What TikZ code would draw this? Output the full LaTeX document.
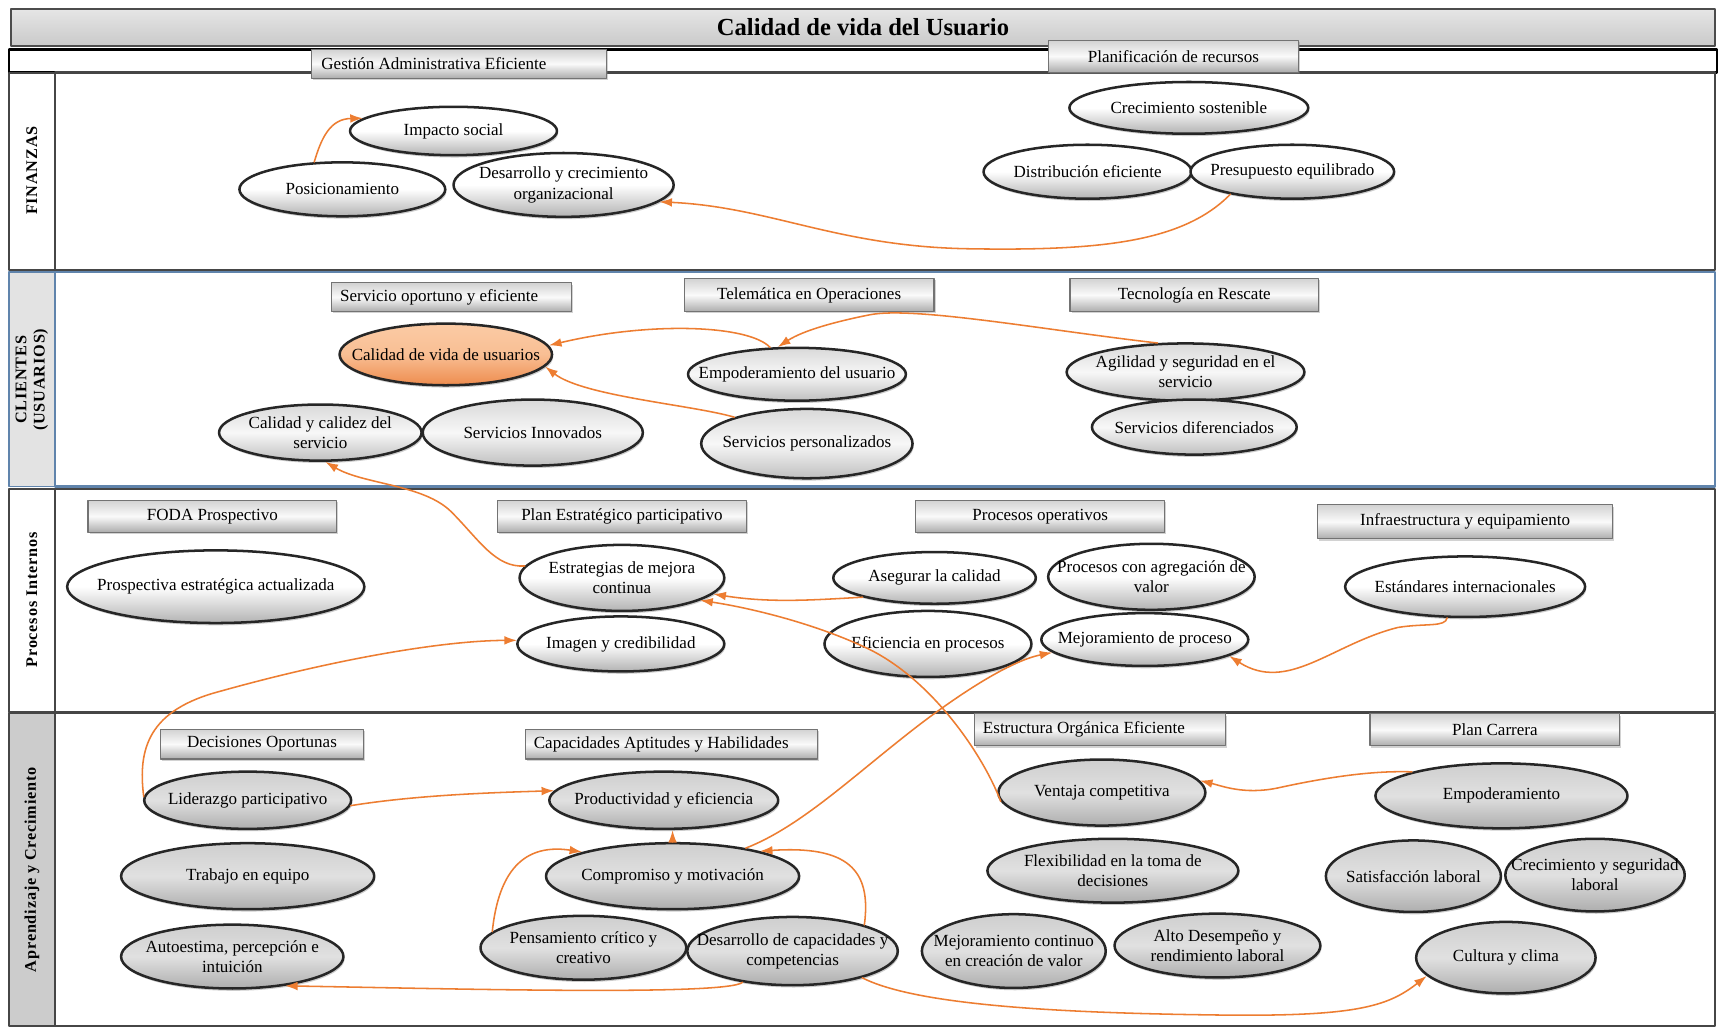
\documentclass[tikz,border=0pt]{standalone}
\usepackage{fontspec}
\setmainfont{Liberation Serif}
\newfontfamily\lanefont[LetterSpace=5]{Liberation Serif}
\usepackage{tikz}
\usetikzlibrary{arrows.meta}
\usetikzlibrary{shapes}
\usetikzlibrary{shadows}

\begin{document}
\begin{tikzpicture}[
    >=Latex,
    line cap=round,
    line join=round,
    x=0.02cm,
    y=-0.02cm
]

% =========================================================
% Colors
% =========================================================
\definecolor{flowor}{RGB}{237,125,49}
\definecolor{vidatop}{RGB}{251,203,165}
\definecolor{vidabot}{RGB}{238,140,78}
\definecolor{laneblue}{RGB}{96,132,172}
\definecolor{framegray}{RGB}{70,70,70}

% =========================================================
% Styles
% =========================================================
\tikzset{
    txt/.style={font=\fontsize{8.8}{10.4}\selectfont},
    lanebox/.style={draw=framegray,line width=1.2pt},
    lanetag/.style={draw=framegray,line width=0.9pt},
    lanetext/.style={rotate=90,align=center,
        font=\lanefont\bfseries\fontsize{8.4}{9.4}\selectfont},
    hdr/.style 2 args={rectangle,txt,inner xsep=3pt,inner ysep=1pt,
        minimum width=#1*0.02cm,minimum height=#2*0.02cm,
        draw=black!55,line width=0.6pt,
        top color=gray!35,bottom color=gray!65,middle color=gray!4,
        drop shadow={shadow xshift=0.8pt,shadow yshift=-1pt,opacity=0.35}},
    hdrleft/.style={align=flush left,text width=#1*0.02cm},
    ov/.style 2 args={ellipse,txt,align=center,
        minimum width=#1*0.02cm,minimum height=#2*0.02cm,
        inner xsep=-11pt,inner ysep=0pt,
        draw=black!85,line width=1.3pt,
        drop shadow={shadow xshift=0.6pt,shadow yshift=-1.2pt,opacity=0.4}},
    ovwhite/.style={top color=white,bottom color=gray!60,middle color=white},
    ovlight/.style={top color=gray!30,bottom color=gray!50,middle color=gray!6},
    ovgray/.style={top color=gray!38,bottom color=gray!64,middle color=gray!24},
    ovorange/.style={top color=vidatop,bottom color=vidabot,middle color=vidatop!80!vidabot},
    flow/.style={draw=flowor,line width=0.8pt,-{Latex[length=6.5pt,width=4.5pt]}}
}

\useasboundingbox (0,0) rectangle (1568,935);
\fill[white] (0,0) rectangle (1568,935);

% =========================================================
% Frame, title and lanes
% =========================================================
\draw[draw=black!70,line width=1.2pt,top color=gray!20,bottom color=gray!42]
    (10,8) rectangle (1558,42);
\node[font=\bfseries\fontsize{12.7}{14}\selectfont] (title) at (784,25)
    {Calidad de vida del Usuario};
\draw[black,line width=1.3pt] (8,45) rectangle (1560,66);

% lane: finanzas
\draw[lanebox] (50,66) rectangle (1558,245);
\draw[lanetag] (8,66) rectangle (50,245);
\node[lanetext] (lfin) at (29,155) {FINANZAS};

% lane: clientes
\draw[draw=laneblue,line width=1.1pt] (50,247) rectangle (1558,442);
\draw[draw=laneblue,line width=0.9pt,fill=gray!22] (8,247) rectangle (50,442);
\node[lanetext] (lcli) at (29,345) {CLIENTES\\(USUARIOS)};

% lane: procesos internos
\draw[lanebox] (50,444) rectangle (1558,647);
\draw[lanetag] (8,444) rectangle (50,647);
\node[lanetext] (lpro) at (29,545) {Procesos Internos};

% lane: aprendizaje
\draw[lanebox] (50,648) rectangle (1558,932);
\draw[lanetag,fill=gray!40] (8,648) rectangle (50,932);
\node[lanetext] (lapr) at (29,790) {Aprendizaje y Crecimiento};

% =========================================================
% Header boxes
% =========================================================
\node[hdr={268}{26},hdrleft=250] (gestion) at (417,58) {Gestión Administrativa Eficiente};
\node[hdr={227}{29}] (planif) at (1066,51) {Planificación de recursos};

\node[hdr={218}{26},hdrleft=202] (servop) at (410,270) {Servicio oportuno y eficiente};
\node[hdr={227}{30}] (telem) at (735,268) {Telemática en Operaciones};
\node[hdr={226}{30}] (tecres) at (1085,268) {Tecnología en Rescate};

\node[hdr={226}{29}] (foda) at (193,469) {FODA Prospectivo};
\node[hdr={226}{29}] (planest) at (565,469) {Plan Estratégico participativo};
\node[hdr={226}{29}] (procop) at (945,469) {Procesos operativos};
\node[hdr={268}{31}] (infra) at (1331,474) {Infraestructura y equipamiento};

\node[hdr={185}{27}] (decis) at (238,676) {Decisiones Oportunas};
\node[hdr={265}{27},hdrleft=250] (capac) at (610,676) {Capacidades Aptitudes y Habilidades};
\node[hdr={228}{29},hdrleft=212] (estorg) at (999,663) {Estructura Orgánica Eficiente};
\node[hdr={227}{29}] (plancar) at (1358,663) {Plan Carrera};

% =========================================================
% Finanzas
% =========================================================
\node[ov={188}{44},ovwhite] (impacto) at (412,119) {Impacto social};
\node[ov={187}{49},ovwhite] (posic) at (311,172) {Posicionamiento};
\node[ov={200}{58},ovwhite] (desarr) at (512,168) {Desarrollo y crecimiento\\organizacional};
\node[ov={217}{47},ovwhite] (crecsost) at (1080,98) {Crecimiento sostenible};
\node[ov={189}{49},ovwhite] (distrib) at (988,156) {Distribución eficiente};
\node[ov={185}{49},ovwhite] (presup) at (1174,156) {Presupuesto equilibrado};

% =========================================================
% Clientes
% =========================================================
\node[ov={193}{56},ovorange] (calvida) at (405,322) {Calidad de vida de usuarios};
\node[ov={188}{48},ovlight] (empus) at (724,340) {Empoderamiento del usuario};
\node[ov={216}{52},ovlight] (agil) at (1077,338) {Agilidad y seguridad en el\\servicio};
\node[ov={186}{50},ovlight] (serdif) at (1085,388) {Servicios diferenciados};
\node[ov={184}{51},ovlight] (calcal) at (291,393) {Calidad y calidez del\\servicio};
\node[ov={200}{60},ovlight] (serinn) at (484,393) {Servicios Innovados};
\node[ov={192}{63},ovlight] (serpers) at (733,403) {Servicios personalizados};

% =========================================================
% Procesos internos
% =========================================================
\node[ov={270}{66},ovwhite] (prosp) at (196,533) {Prospectiva estratégica actualizada};
\node[ov={186}{60},ovwhite] (estrat) at (565,525) {Estrategias de mejora\\continua};
\node[ov={188}{50},ovwhite] (imagen) at (564,585) {Imagen y credibilidad};
\node[ov={184}{47},ovwhite] (aseg) at (849,525) {Asegurar la calidad};
\node[ov={186}{60},ovwhite] (procagr) at (1046,524) {Procesos con agregación de\\valor};
\node[ov={188}{60},ovwhite] (efic) at (843,585) {Eficiencia en procesos};
\node[ov={188}{48},ovwhite] (mejproc) at (1040,581) {Mejoramiento de proceso};
\node[ov={218}{55},ovwhite] (estand) at (1331,533) {Estándares internacionales};

% =========================================================
% Aprendizaje y crecimiento
% =========================================================
\node[ov={188}{52},ovgray] (lider) at (225,727) {Liderazgo participativo};
\node[ov={208}{52},ovgray] (prod) at (603,727) {Productividad y eficiencia};
\node[ov={230}{60},ovgray] (trabajo) at (225,796) {Trabajo en equipo};
\node[ov={230}{60},ovgray] (compr) at (611,796) {Compromiso y motivación};
\node[ov={202}{58},ovgray] (autoest) at (211,869) {Autoestima, percepción e\\intuición};
\node[ov={187}{58},ovgray] (pensa) at (530,861) {Pensamiento crítico y\\creativo};
\node[ov={185}{62},ovgray] (desacap) at (720,864) {Desarrollo de capacidades y\\competencias};
\node[ov={188}{60},ovgray] (vent) at (1001,720) {Ventaja competitiva};
\node[ov={228}{58},ovgray] (flexi) at (1011,791) {Flexibilidad en la toma de\\decisiones};
\node[ov={167}{67},ovgray] (mejcont) at (921,864) {Mejoramiento continuo\\en creación de valor};
\node[ov={187}{58},ovgray] (alto) at (1106,859) {Alto Desempeño y\\rendimiento laboral};
\node[ov={229}{59},ovgray] (empod) at (1364,723) {Empoderamiento};
\node[ov={159}{65},ovgray] (satisf) at (1284,796) {Satisfacción laboral};
\node[ov={163}{66},ovgray] (crecseg) at (1449,795) {Crecimiento y seguridad\\laboral};
\node[ov={163}{65},ovgray] (cultura) at (1368,870) {Cultura y clima};

% =========================================================
% Links
% =========================================================
\draw[flow] (posic.136) .. controls (292,125) and (300,108) .. (impacto.172);
\draw[flow] (presup.200) .. controls (1075,220) and (1000,228) .. (880,226)
    .. controls (760,224) and (700,188) .. (desarr.-10);

\draw[flow] (empus.135) .. controls (680,295) and (590,292) .. (calvida.5);
\draw[flow] (serpers.160) .. controls (630,368) and (530,360) .. (calvida.-7);
\draw[flow] (agil.134) .. controls (950,300) and (830,278) .. (790,286)
    .. controls (760,292) and (730,300) .. (empus.125);

\draw[flow] (estrat.173) .. controls (450,516) and (435,490) .. (410,465)
    .. controls (385,440) and (330,440) .. (calcal.-80);
\draw[flow] (aseg.195) .. controls (740,545) and (700,548) .. (estrat.-10);
\draw[flow] (vent.185) .. controls (895,690) and (850,620) .. (790,590)
    .. controls (740,566) and (680,552) .. (estrat.-16);
\draw[flow] (compr.21) .. controls (730,750) and (780,700) .. (841,654)
    .. controls (880,625) and (920,600) .. (mejproc.188);
\draw[flow] (estand.-120) .. controls (1313,570) and (1295,566) .. (1270,570)
    .. controls (1210,585) and (1170,630) .. (mejproc.-11);

\draw[flow] (lider.178) .. controls (125,680) and (135,645) .. (200,628)
    .. controls (300,600) and (400,582) .. (imagen.178);
\draw[flow] (lider.-3) .. controls (380,722) and (450,720) .. (prod.175);
\draw[flow] (compr.north) -- (compr.north |- prod.south);
\draw[flow] (pensa.170) .. controls (452,800) and (470,765) .. (compr.165);
\draw[flow] (desacap.20) .. controls (792,790) and (770,768) .. (compr.16);
\draw[flow] (desacap.212) .. controls (660,905) and (400,898) .. (autoest.-29);
\draw[flow] (desacap.-21) .. controls (830,912) and (950,920) .. (1100,922)
    .. controls (1230,924) and (1260,915) .. (cultura.193);
\draw[flow] (empod.165) .. controls (1250,700) and (1210,705) .. (1160,716)
    .. controls (1130,722) and (1110,714) .. (vent.7);

\end{tikzpicture}
\end{document}
